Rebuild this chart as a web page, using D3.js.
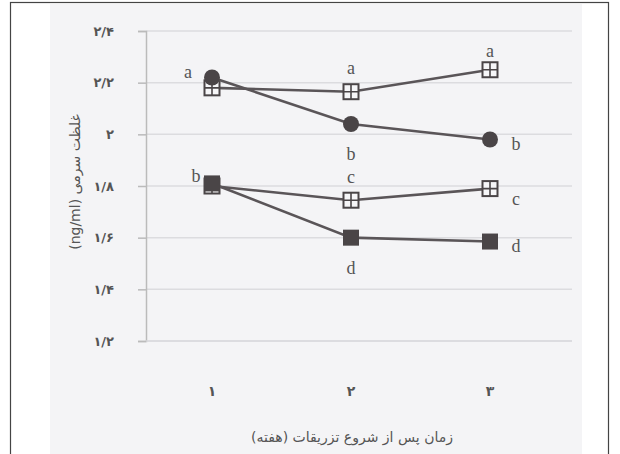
<!DOCTYPE html>
<html lang="fa">
<head>
  <meta charset="UTF-8">
  <title>Serum concentration chart</title>
  <script src="https://d3js.org/d3.v7.min.js"></script>
  <style>
    body { margin: 0; background: #fff; }
    .fa { font-family: "DejaVu Sans", sans-serif; fill: #555; }
    .letter { font-family: "Liberation Serif", serif; font-size: 18px; fill: #555; }
  </style>
</head>
<body>
  <svg id="chart" width="620" height="454"></svg>
  <script>
    const weeks = [1, 2, 3];
    const xTickLabels = ['۱', '۲', '۳'];
    const yTicks = [1.2, 1.4, 1.6, 1.8, 2.0, 2.2, 2.4];
    const yTickLabels = ['۱/۲', '۱/۴', '۱/۶', '۱/۸', '۲', '۲/۲', '۲/۴'];

    // four groups, values
    const circleVals = [2.22, 2.04, 1.98];
    const openTopVals = [2.18, 2.165, 2.25];
    const openLowVals = [1.80, 1.745, 1.79];
    const squareVals = [1.81, 1.60, 1.585];

    // significance letters: [week, value, text, dx, dy]
    const letters = [
      [1, 2.22, 'a', -24, -6], [2, 2.165, 'a', 0, -24], [3, 2.25, 'a', 0, -19],
      [2, 2.04, 'b', 0, 30], [3, 1.98, 'b', 26, 4],
      [1, 1.81, 'b', -16, -8], [2, 1.745, 'c', 0, -24], [3, 1.79, 'c', 26, 10],
      [2, 1.60, 'd', 0, 30], [3, 1.585, 'd', 26, 4]
    ];

    const svg = d3.select('#chart');

    // frame and panel
    svg.append('rect').attr('x', 10.5).attr('y', 2.5).attr('width', 598).attr('height', 470)
      .attr('fill', '#fff').attr('stroke', '#444').attr('stroke-width', 1.2);
    svg.append('rect').attr('x', 50).attr('y', 4).attr('width', 532).attr('height', 460)
      .attr('fill', '#f4f4f6');

    const x = d3.scaleLinear().domain([1, 3]).range([212, 490]);
    const y = d3.scaleLinear().domain([1.2, 2.4]).range([341, 31]);
    const axisX = 146;

    // grid lines
    svg.append('g').selectAll('line').data(yTicks.slice(1)).enter().append('line')
      .attr('x1', axisX).attr('x2', 572)
      .attr('y1', d => y(d)).attr('y2', d => y(d))
      .attr('stroke', '#dcdcdf').attr('stroke-width', 1.5);

    // y axis
    const yAxis = d3.axisLeft(y).tickValues(yTicks).tickSize(8)
      .tickFormat((d, i) => yTickLabels[i]);
    const gy = svg.append('g').attr('transform', `translate(${axisX},0)`).call(yAxis);
    gy.select('.domain').attr('stroke', '#bbb').attr('stroke-width', 1.5);
    gy.selectAll('.tick line').attr('stroke', '#bbb').attr('stroke-width', 1.5);
    gy.selectAll('.tick text').attr('class', 'fa').attr('x', -32)
      .style('font-size', '13px').style('font-weight', 'bold').attr('fill', '#555');

    // x axis base line
    svg.append('line').attr('x1', axisX).attr('x2', 572).attr('y1', y(1.2)).attr('y2', y(1.2))
      .attr('stroke', '#d4d4d8').attr('stroke-width', 1.5);

    svg.append('g').selectAll('text').data(weeks).enter().append('text')
      .attr('class', 'fa').attr('x', d => x(d)).attr('y', 396)
      .attr('text-anchor', 'middle').style('font-size', '14px').style('font-weight', 'bold')
      .text((d, i) => xTickLabels[i]);

    // axis titles
    svg.append('text').attr('class', 'fa').attr('x', 352).attr('y', 442)
      .attr('text-anchor', 'middle').attr('direction', 'rtl')
      .style('font-size', '14px')
      .text('زمان پس از شروع تزریقات (هفته)');
    svg.append('text').attr('class', 'fa')
      .attr('transform', 'translate(80,182) rotate(-90)')
      .attr('text-anchor', 'middle').attr('direction', 'rtl')
      .style('font-size', '14px')
      .text('غلظت سرمی (ng/ml)');

    const line = d3.line().x((d, i) => x(weeks[i])).y(d => y(d));
    const lineColor = '#5a5558';
    const markColor = '#4a4547';

    function drawSeries(vals, kind) {
      svg.append('path').datum(vals).attr('d', line)
        .attr('fill', 'none').attr('stroke', lineColor).attr('stroke-width', 2.6);
      const g = svg.append('g').selectAll('g').data(vals).enter().append('g')
        .attr('transform', (d, i) => `translate(${x(weeks[i])},${y(d)})`);
      if (kind === 'circle') {
        g.append('circle').attr('r', 8).attr('fill', markColor);
      } else if (kind === 'square') {
        g.append('rect').attr('x', -8).attr('y', -8).attr('width', 16).attr('height', 16)
          .attr('fill', markColor);
      } else {
        g.append('rect').attr('x', -7.5).attr('y', -7.5).attr('width', 15).attr('height', 15)
          .attr('fill', '#f6f6f8').attr('stroke', markColor).attr('stroke-width', 2);
        g.append('path').attr('d', 'M-7.5,0H7.5M0,-7.5V7.5')
          .attr('stroke', markColor).attr('stroke-width', 1.6);
      }
    }

    drawSeries(openTopVals, 'open');
    drawSeries(openLowVals, 'open');
    drawSeries(circleVals, 'circle');
    drawSeries(squareVals, 'square');

    svg.append('g').selectAll('text').data(letters).enter().append('text')
      .attr('class', 'letter')
      .attr('x', d => x(d[0]) + d[3]).attr('y', d => y(d[1]) + d[4])
      .attr('text-anchor', 'middle').attr('dy', '0.35em')
      .text(d => d[2]);
  </script>
</body>
</html>
